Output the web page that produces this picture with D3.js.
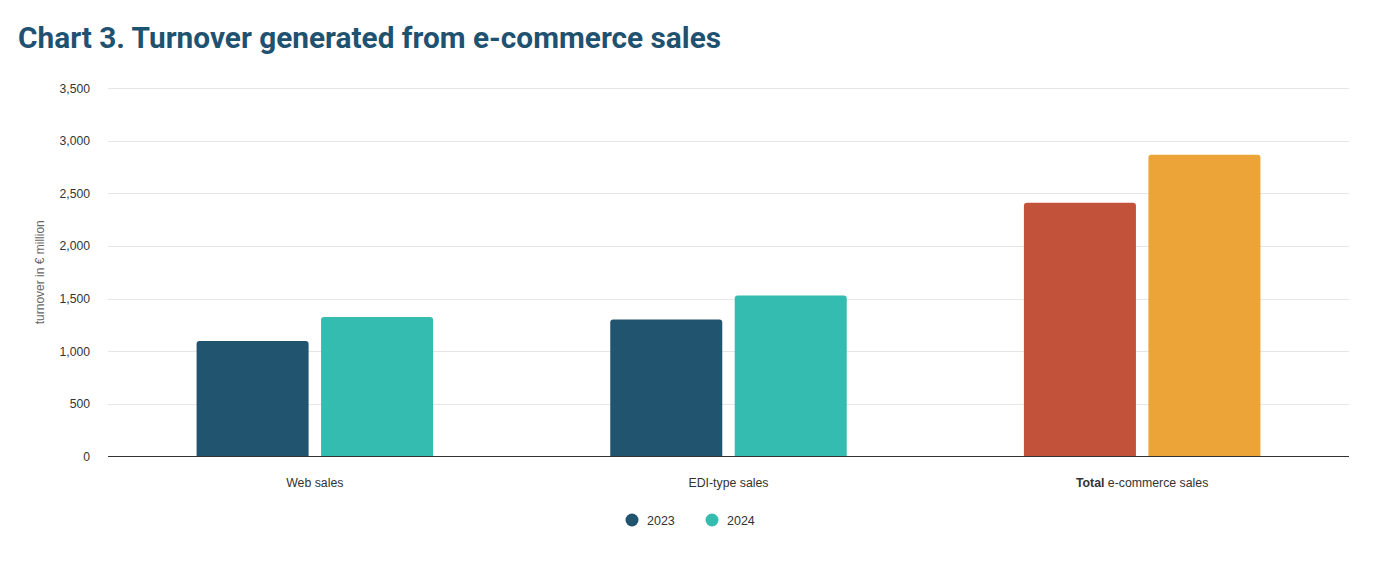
<!DOCTYPE html>
<html><head><meta charset="utf-8">
<script src="https://cdn.jsdelivr.net/npm/d3@7"></script>
<style>body{margin:0;background:#fff;} svg{display:block;}</style>
</head><body>
<svg id="c" width="1373" height="562"></svg>
<script>
const categories = ["Web sales", "EDI-type sales", "Total e-commerce sales"];
const series = ["2023", "2024"];
const values2023 = [1097, 1301, 2410];
const values2024 = [1325, 1529, 2865];
const yTicks = [0, 500, 1000, 1500, 2000, 2500, 3000, 3500];
const seriesColors = ["#21546f", "#35bcb0"];
const totalColors = ["#c3523a", "#eca337"];

const svg = d3.select("#c");
const W = 1373, H = 562;
const m = {left:108, right:24, top:88, bottom:106};
const x0 = d3.scaleBand().domain(categories).range([m.left, W - m.right]).padding(0);
const y = d3.scaleLinear().domain([0, 3500]).range([456.5, 88]);
const gw = x0.bandwidth();
const x1 = d3.scaleBand().domain(series).range([gw/2 - 118.25, gw/2 + 118.25]).paddingInner(0.1).paddingOuter(0);

svg.append("text").attr("x", 18).attr("y", 48)
  .attr("font-family", "Roboto").attr("font-weight", 700).attr("font-size", 29.8)
  .attr("fill", "#1f5270").text("Chart 3. Turnover generated from e-commerce sales");

// grid
svg.append("g").selectAll("line").data(yTicks.filter(d => d > 0)).join("line")
  .attr("x1", m.left).attr("x2", W - m.right)
  .attr("y1", d => Math.round(y(d)) + 0.5).attr("y2", d => Math.round(y(d)) + 0.5)
  .attr("stroke", "#e6e6e6").attr("stroke-width", 1);

// y tick labels
svg.append("g").selectAll("text").data(yTicks).join("text")
  .attr("x", 90).attr("y", d => y(d) + 4.5).attr("text-anchor", "end")
  .attr("font-family", "Liberation Sans, Arial, sans-serif").attr("font-size", 12.2)
  .attr("fill", "#333").text(d => d3.format(",")(d));

svg.append("text").attr("transform", `translate(44,${(y(0)+y(3500))/2}) rotate(-90)`)
  .attr("text-anchor", "middle").attr("font-family", "Liberation Sans, Arial, sans-serif")
  .attr("font-size", 12).attr("fill", "#666").text("turnover in € million");

function topRounded(x, yTop, w, yBase, r) {
  return `M${x},${yBase}V${yTop + r}Q${x},${yTop} ${x + r},${yTop}H${x + w - r}Q${x + w},${yTop} ${x + w},${yTop + r}V${yBase}Z`;
}

const data = [];
categories.forEach((c, i) => {
  series.forEach((s, j) => {
    const v = j === 0 ? values2023[i] : values2024[i];
    const col = i === 2 ? totalColors[j] : seriesColors[j];
    data.push({c, s, v, col});
  });
});

svg.append("g").selectAll("path").data(data).join("path")
  .attr("d", d => topRounded(x0(d.c) + x1(d.s), y(d.v), x1.bandwidth(), y(0), 3))
  .attr("fill", d => d.col);

// baseline
svg.append("line").attr("x1", m.left).attr("x2", W - m.right)
  .attr("y1", 456.5).attr("y2", 456.5).attr("stroke", "#333").attr("stroke-width", 1);

// x labels
const xl = svg.append("g").selectAll("text").data(categories).join("text")
  .attr("x", d => x0(d) + gw/2).attr("y", 487).attr("text-anchor", "middle")
  .attr("font-family", "Liberation Sans, Arial, sans-serif").attr("font-size", 12.3)
  .attr("fill", "#333");
xl.each(function(d) {
  const t = d3.select(this);
  if (d.startsWith("Total")) {
    t.append("tspan").attr("font-weight", 700).text("Total");
    t.append("tspan").text(d.slice(5));
  } else t.text(d);
});

// legend
const lg = svg.append("g").selectAll("g").data(series).join("g")
  .attr("transform", (d, i) => `translate(${632 + i*80},520)`);
lg.append("circle").attr("r", 6.5).attr("fill", (d, i) => seriesColors[i]);
lg.append("text").attr("x", 15).attr("y", 5).attr("font-family", "Liberation Sans, Arial, sans-serif")
  .attr("font-size", 12.5).attr("fill", "#333").text(d => d);
</script>
</body></html>
